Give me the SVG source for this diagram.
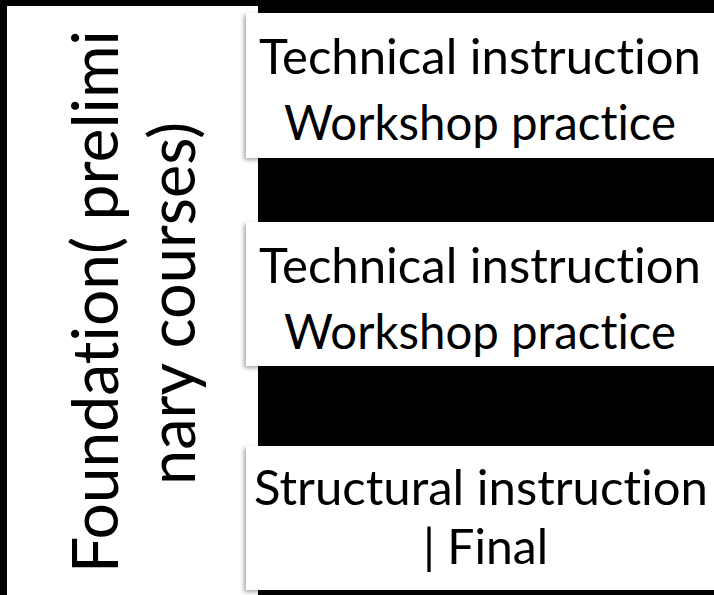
<svg xmlns="http://www.w3.org/2000/svg" width="714" height="595" viewBox="0 0 714 595">
<defs>
<filter id="sh" x="-5%" y="-10%" width="110%" height="125%">
<feDropShadow dx="-2" dy="2" stdDeviation="2" flood-color="#000" flood-opacity="0.35"/>
</filter>
</defs>
<style>
.box{fill:#fff}
.t{font-family:Lato,"Open Sans","Liberation Sans",sans-serif;fill:#000;font-variant-ligatures:none;font-feature-settings:"liga" 0,"dlig" 0}
.r{font-size:48px}
.l{font-size:63px}
</style>
<rect x="0" y="0" width="714" height="595" fill="#000"/>
<g id="foundation">
<rect class="box" x="7" y="6" width="251" height="589"/>
<text class="t l" transform="rotate(-90)" x="-573" y="118" textLength="543" lengthAdjust="spacingAndGlyphs">Foundation( prelimi</text>
<text class="t l" transform="rotate(-90)" x="-485" y="195" textLength="363" lengthAdjust="spacingAndGlyphs">nary courses)</text>
</g>
<g id="step1">
<rect class="box" x="246" y="13" width="468" height="145" filter="url(#sh)"/>
<text class="t r" x="259" y="74" textLength="442" lengthAdjust="spacingAndGlyphs">Technical instruction</text>
<text class="t r" x="284" y="140" textLength="392" lengthAdjust="spacingAndGlyphs">Workshop practice</text>
</g>
<g id="step2">
<rect class="box" x="246" y="222" width="468" height="144" filter="url(#sh)"/>
<text class="t r" x="259" y="283" textLength="442" lengthAdjust="spacingAndGlyphs">Technical instruction</text>
<text class="t r" x="284" y="349" textLength="392" lengthAdjust="spacingAndGlyphs">Workshop practice</text>
</g>
<g id="step3">
<rect class="box" x="246" y="446" width="468" height="144" filter="url(#sh)"/>
<text class="t r" x="254" y="505" textLength="454" lengthAdjust="spacingAndGlyphs">Structural instruction</text>
<text class="t r" x="423" y="564" textLength="125" lengthAdjust="spacingAndGlyphs">| Final</text>
</g>
<g id="connectors"></g>
</svg>
